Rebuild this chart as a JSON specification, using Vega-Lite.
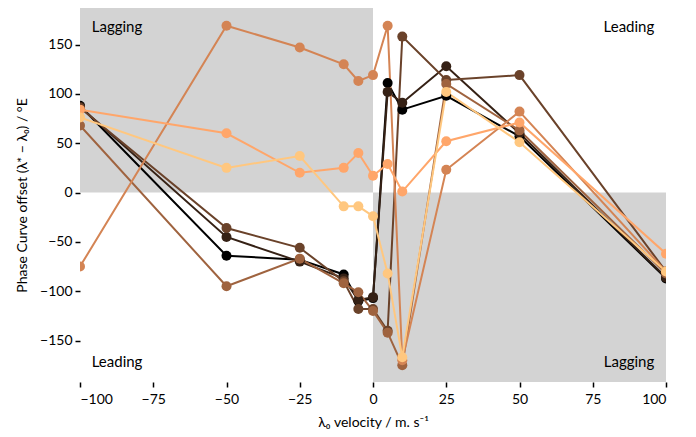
{
  "$schema": "https://vega.github.io/schema/vega-lite/v6.json",
  "width": 586,
  "height": 374,
  "autosize": {"type": "none"},
  "padding": {"left": 80, "top": 8, "right": 30, "bottom": 55},
  "background": "white",
  "config": {
    "view": {"stroke": null},
    "font": "Lato",
    "axis": {"domain": false, "grid": false, "ticks": true, "tickColor": "black", "tickWidth": 1.5, "tickSize": 5, "labelColor": "black", "labelFontSize": 14, "titleFontSize": 14, "titleFontWeight": "normal", "titleColor": "black", "labelFont": "Lato", "titleFont": "Lato", "zindex": 1}
  },
  "datasets": {
    "series": [
      {"s": 0, "v": -100, "o": 88}, {"s": 0, "v": -50, "o": -64}, {"s": 0, "v": -25, "o": -68}, {"s": 0, "v": -10, "o": -83}, {"s": 0, "v": -5, "o": -110}, {"s": 0, "v": 0, "o": -107}, {"s": 0, "v": 5, "o": 111}, {"s": 0, "v": 10, "o": 84}, {"s": 0, "v": 25, "o": 98}, {"s": 0, "v": 50, "o": 57}, {"s": 0, "v": 100, "o": -87},
      {"s": 1, "v": -100, "o": 87}, {"s": 1, "v": -50, "o": -45}, {"s": 1, "v": -25, "o": -70}, {"s": 1, "v": -10, "o": -87}, {"s": 1, "v": -5, "o": -109}, {"s": 1, "v": 0, "o": -106}, {"s": 1, "v": 5, "o": 102}, {"s": 1, "v": 10, "o": 91}, {"s": 1, "v": 25, "o": 128}, {"s": 1, "v": 50, "o": 60}, {"s": 1, "v": 100, "o": -86},
      {"s": 2, "v": -100, "o": 86}, {"s": 2, "v": -50, "o": -36}, {"s": 2, "v": -25, "o": -56}, {"s": 2, "v": -10, "o": -90}, {"s": 2, "v": -5, "o": -118}, {"s": 2, "v": 0, "o": -118}, {"s": 2, "v": 5, "o": -140}, {"s": 2, "v": 10, "o": 158}, {"s": 2, "v": 25, "o": 114}, {"s": 2, "v": 50, "o": 119}, {"s": 2, "v": 100, "o": -80},
      {"s": 3, "v": -100, "o": 68}, {"s": 3, "v": -50, "o": -95}, {"s": 3, "v": -25, "o": -67}, {"s": 3, "v": -10, "o": -92}, {"s": 3, "v": -5, "o": -101}, {"s": 3, "v": 0, "o": -120}, {"s": 3, "v": 5, "o": -142}, {"s": 3, "v": 10, "o": -175}, {"s": 3, "v": 25, "o": 110}, {"s": 3, "v": 50, "o": 63}, {"s": 3, "v": 100, "o": -82},
      {"s": 4, "v": -100, "o": -75}, {"s": 4, "v": -50, "o": 169}, {"s": 4, "v": -25, "o": 147}, {"s": 4, "v": -10, "o": 130}, {"s": 4, "v": -5, "o": 113}, {"s": 4, "v": 0, "o": 119}, {"s": 4, "v": 5, "o": 169}, {"s": 4, "v": 10, "o": -170}, {"s": 4, "v": 25, "o": 23}, {"s": 4, "v": 50, "o": 82}, {"s": 4, "v": 100, "o": -80},
      {"s": 5, "v": -100, "o": 84}, {"s": 5, "v": -50, "o": 60}, {"s": 5, "v": -25, "o": 20}, {"s": 5, "v": -10, "o": 25}, {"s": 5, "v": -5, "o": 40}, {"s": 5, "v": 0, "o": 17}, {"s": 5, "v": 5, "o": 29}, {"s": 5, "v": 10, "o": 1}, {"s": 5, "v": 25, "o": 52}, {"s": 5, "v": 50, "o": 71}, {"s": 5, "v": 100, "o": -62},
      {"s": 6, "v": -100, "o": 76}, {"s": 6, "v": -50, "o": 25}, {"s": 6, "v": -25, "o": 37}, {"s": 6, "v": -10, "o": -14}, {"s": 6, "v": -5, "o": -14}, {"s": 6, "v": 0, "o": -24}, {"s": 6, "v": 5, "o": -82}, {"s": 6, "v": 10, "o": -167}, {"s": 6, "v": 25, "o": 102}, {"s": 6, "v": 50, "o": 51}, {"s": 6, "v": 100, "o": -80}
    ],
    "regions": [
      {"x1": -100, "x2": 0, "y1": 0, "y2": 187},
      {"x1": 0, "x2": 100, "y1": -192, "y2": 0}
    ],
    "labelsLeft": [
      {"t": "Lagging", "x": -96, "y": 168},
      {"t": "Leading", "x": -96, "y": -172}
    ],
    "labelsRight": [
      {"t": "Leading", "x": 96, "y": 168},
      {"t": "Lagging", "x": 96, "y": -172}
    ]
  },
  "layer": [
    {
      "data": {"name": "regions"},
      "mark": {"type": "rect", "color": "#d3d3d3", "opacity": 1},
      "encoding": {
        "x": {"field": "x1", "type": "quantitative", "scale": {"domain": [-100, 100], "nice": false, "zero": false}, "axis": {"values": [-100, -75, -50, -25, 0, 25, 50, 75, 100], "title": "λ₀ velocity / m. s⁻¹", "titlePadding": 9, "labelPadding": 5}},
        "x2": {"field": "x2"},
        "y": {"field": "y1", "type": "quantitative", "scale": {"domain": [-192, 187], "nice": false, "zero": false}, "axis": {"values": [-150, -100, -50, 0, 50, 100, 150], "title": "Phase Curve offset (λ* − λ₀) / °E", "titlePadding": 10, "labelPadding": 3}},
        "y2": {"field": "y2"}
      }
    },
    {
      "data": {"name": "series"},
      "mark": {"type": "line", "strokeWidth": 2, "clip": true},
      "encoding": {
        "x": {"field": "v", "type": "quantitative"},
        "y": {"field": "o", "type": "quantitative"},
        "color": {"field": "s", "type": "ordinal", "scale": {"domain": [0, 1, 2, 3, 4, 5, 6], "range": ["#000000", "#352115", "#6a422a", "#9f633f", "#d48454", "#ffa66a", "#ffc77f"]}, "legend": null},
        "order": {"field": "v", "type": "quantitative"}
      }
    },
    {
      "data": {"name": "series"},
      "mark": {"type": "circle", "size": 100, "opacity": 1, "clip": true},
      "encoding": {
        "x": {"field": "v", "type": "quantitative"},
        "y": {"field": "o", "type": "quantitative"},
        "color": {"field": "s", "type": "ordinal", "legend": null},
        "order": {"field": "s", "type": "quantitative"}
      }
    },
    {
      "data": {"name": "labelsLeft"},
      "mark": {"type": "text", "align": "left", "baseline": "middle", "fontSize": 15, "font": "Lato", "color": "black"},
      "encoding": {
        "x": {"field": "x", "type": "quantitative"},
        "y": {"field": "y", "type": "quantitative"},
        "text": {"field": "t"}
      }
    },
    {
      "data": {"name": "labelsRight"},
      "mark": {"type": "text", "align": "right", "baseline": "middle", "fontSize": 15, "font": "Lato", "color": "black"},
      "encoding": {
        "x": {"field": "x", "type": "quantitative"},
        "y": {"field": "y", "type": "quantitative"},
        "text": {"field": "t"}
      }
    },
    {
      "mark": {"type": "rect", "fill": null, "stroke": "black", "strokeWidth": 2},
      "encoding": {
        "x": {"datum": -100},
        "x2": {"datum": 100},
        "y": {"datum": -192},
        "y2": {"datum": 187}
      }
    }
  ]
}
